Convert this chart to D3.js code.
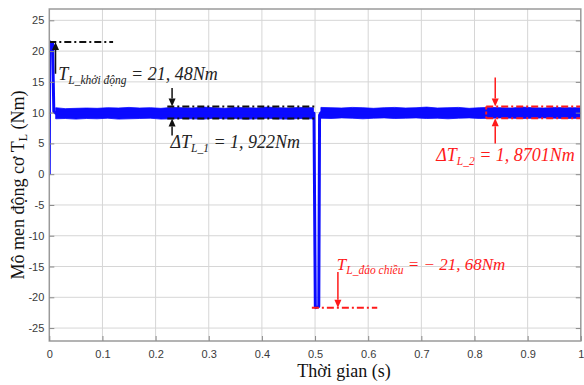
<!DOCTYPE html>
<html><head><meta charset="utf-8">
<script src="https://cdn.jsdelivr.net/npm/d3@7"></script>
<style>html,body{margin:0;padding:0;background:#fff;}svg{display:block;}</style>
</head><body>
<script>
// ---- data ----
const xTicks = [0,0.1,0.2,0.3,0.4,0.5,0.6,0.7,0.8,0.9,1];
const xTickLabels = ["0","0.1","0.2","0.3","0.4","0.5","0.6","0.7","0.8","0.9","1"];
const yTicks = [-25,-20,-15,-10,-5,0,5,10,15,20,25];
const yTickLabels = ["-25","-20","-15","-10","-5","0","5","10","15","20","25"];

// mean torque trajectory (transients)
const meanTime   = [0, 0.0008, 0.003, 0.0062, 0.0085, 0.012, 0.498, 0.5005, 0.5015, 0.507, 0.5085, 0.511, 1.0];
const meanTorque = [0, 21.5, 21.4, 21.2, 10.2, 9.9, 9.9, -21.6, -21.68, -21.5, 9.6, 10.0, 10.0];

// ripple envelope, segment 1 (start-up to reversal)
const rippleTimeA  = [0.012,0.03,0.05,0.07,0.09,0.11,0.13,0.15,0.17,0.19,0.21,0.23,0.25,0.27,0.29,0.31,0.33,0.35,0.37,0.39,0.41,0.43,0.45,0.47,0.497];
const rippleUpperA = [10.8,10.65,10.7,10.75,10.7,10.8,10.75,10.85,10.75,10.8,10.7,10.85,10.8,10.75,10.9,10.8,10.7,10.85,10.8,10.75,10.9,10.8,10.75,10.85,10.8];
const rippleLowerA = [9.0,9.05,8.95,9.05,9.0,9.1,8.95,9.0,9.05,9.1,8.95,9.0,9.05,9.0,8.95,9.1,9.0,9.05,8.95,9.0,9.1,9.0,8.95,9.05,9.0];
// ripple envelope, segment 2 (after reversal)
const rippleTimeB  = [0.511,0.53,0.55,0.57,0.59,0.61,0.63,0.65,0.67,0.69,0.71,0.73,0.75,0.77,0.79,0.81,0.83,0.85,0.87,0.89,0.91,0.93,0.95,0.97,1.0];
const rippleUpperB = [10.85,10.8,10.75,10.85,10.8,10.7,10.8,10.85,10.75,10.8,10.9,10.75,10.8,10.85,10.7,10.8,10.85,10.8,10.75,10.9,10.8,10.75,10.85,10.8,10.8];
const rippleLowerB = [9.1,9.05,9.15,9.1,9.0,9.1,9.15,9.05,9.1,9.15,9.05,9.1,9.0,9.1,9.15,9.05,9.1,9.15,9.1,9.05,9.1,9.15,9.1,9.05,9.1];

// annotation values
const startTorque = 21.48, reverseTorque = -21.68;
const band1 = [10.98, 9.06];   // ΔT_L_1 = 1,922
const band2 = [10.98, 9.11];   // ΔT_L_2 = 1,8701

// ---- layout ----
const W = 584, H = 385;
const L = 49.3, R = 580.8, T = 9, B = 341;
const x = d3.scaleLinear().domain([0,1]).range([L,R]);
const y = d3.scaleLinear().domain([-27.1,26.84]).range([B,T]);

const svg = d3.select("body").append("svg").attr("width",W).attr("height",H);

// grid
const g = svg.append("g");
g.selectAll(".gx").data(xTicks.slice(1,-1)).join("line")
  .attr("x1",d=>x(d)).attr("x2",d=>x(d)).attr("y1",T).attr("y2",B)
  .attr("stroke","#d6d6d6").attr("stroke-width",1);
g.selectAll(".gy").data(yTicks).join("line")
  .attr("x1",L).attr("x2",R).attr("y1",d=>y(d)).attr("y2",d=>y(d))
  .attr("stroke","#d6d6d6").attr("stroke-width",1);

// data: ripple bands
svg.append("clipPath").attr("id","pc").append("rect")
  .attr("x",L).attr("y",T).attr("width",R-L).attr("height",B-T);
const dg = svg.append("g").attr("clip-path","url(#pc)");
const area = d3.area().x(d=>x(d.t)).y0(d=>y(d.lo)).y1(d=>y(d.hi));
const segA = rippleTimeA.map((t,i)=>({t, hi:rippleUpperA[i], lo:rippleLowerA[i]}));
const segB = rippleTimeB.map((t,i)=>({t, hi:rippleUpperB[i], lo:rippleLowerB[i]}));
[segA, segB].forEach(s=>dg.append("path").attr("d",area(s)).attr("fill","#0a0aff").attr("stroke","#0a0aff").attr("stroke-width",0.8));
const line = d3.line().x(d=>x(d.t)).y(d=>y(d.v));
dg.append("path").datum(meanTime.map((t,i)=>({t, v:meanTorque[i]})))
  .attr("d",line).attr("fill","none").attr("stroke","#0a0aff").attr("stroke-width",3).attr("stroke-linejoin","round");

// annotations
const dash = "7,3,2,3";
const ag = svg.append("g").attr("clip-path","url(#pc)");
function hline(t1,t2,v,color){
  ag.append("line").attr("x1",x(t1)).attr("x2",x(t2)).attr("y1",y(v)).attr("y2",y(v))
    .attr("stroke",color).attr("stroke-width",2).attr("stroke-dasharray",dash);
}
function arrow(t,vFrom,vTo,color){
  const xx=x(t), y1=y(vFrom), y2=y(vTo);
  const dir = y2>y1?1:-1, hl=8, hw=3.5;
  ag.append("line").attr("x1",xx).attr("x2",xx).attr("y1",y1).attr("y2",y2-dir*hl)
    .attr("stroke",color).attr("stroke-width",1.5);
  ag.append("path").attr("d",`M${xx},${y2} L${xx-hw},${y2-dir*hl} L${xx+hw},${y2-dir*hl} Z`).attr("fill",color);
}
function label(t,v,color,main,sub,rest,fs){
  const tx = svg.append("text").attr("x",x(t)).attr("y",y(v))
    .attr("font-family","Liberation Serif, serif").attr("font-style","italic")
    .attr("font-size",fs).attr("fill",color);
  tx.append("tspan").text(main);
  tx.append("tspan").attr("font-size",11.5).attr("dy",4).text(sub);
  tx.append("tspan").attr("dy",-4).attr("font-size",fs).text(rest);
}
// start-up
hline(0,0.12,startTorque,"#111");
arrow(0.0117,16.3,startTorque,"#111");
label(0.017,15.3,"#222","T","L_khởi động"," = 21, 48Nm",18);
// ripple 1
hline(0.222,0.504,band1[0],"#111");
hline(0.222,0.504,band1[1],"#111");
arrow(0.231,14.0,band1[0],"#111");
arrow(0.231,6.3,band1[1],"#111");
label(0.228,4.3,"#222","ΔT","L_1"," = 1, 922Nm",18);
// ripple 2 (red)
hline(0.822,1.0,band2[0],"#ff1a1a");
hline(0.822,1.0,band2[1],"#ff1a1a");
ag.append("line").attr("x1",x(0.822)).attr("x2",x(0.822)).attr("y1",y(band2[0])).attr("y2",y(band2[1]))
  .attr("stroke","#ff1a1a").attr("stroke-width",2).attr("stroke-dasharray","3,2");
arrow(0.839,15.7,band2[0],"#ff1a1a");
arrow(0.839,5.0,band2[1],"#ff1a1a");
label(0.728,2.2,"#ff1a1a","ΔT","L_2"," = 1, 8701Nm",18);
// reversal (red)
hline(0.494,0.617,reverseTorque,"#ff1a1a");
arrow(0.543,-15.9,reverseTorque,"#ff1a1a");
label(0.541,-15.6,"#ff1a1a","T","L_đảo chiều"," = − 21, 68Nm",17);

// frame & ticks
svg.append("rect").attr("x",L).attr("y",T).attr("width",R-L).attr("height",B-T)
  .attr("fill","none").attr("stroke","#9a9a9a").attr("stroke-width",1.5);
const xa = svg.append("g").attr("transform",`translate(0,${B})`)
  .call(d3.axisBottom(x).tickValues(xTicks).tickFormat((d,i)=>xTickLabels[i]).tickSize(-5).tickPadding(9));
const ya = svg.append("g").attr("transform",`translate(${L},0)`)
  .call(d3.axisLeft(y).tickValues(yTicks).tickFormat((d,i)=>yTickLabels[i]).tickSize(-5).tickPadding(5));
const ya2 = svg.append("g").attr("transform",`translate(${R},0)`)
  .call(d3.axisRight(y).tickValues(yTicks).tickFormat("").tickSize(-5));
[xa,ya,ya2].forEach(a=>{
  a.select(".domain").remove();
  a.selectAll(".tick line").attr("stroke","#8a8a8a");
  a.selectAll("text").attr("font-family","Liberation Sans, Arial, sans-serif").attr("font-size",11).attr("fill","#3a3a3a");
});

// axis titles
svg.append("text").attr("x",(L+R)/2+29).attr("y",377).attr("text-anchor","middle")
  .attr("font-family","Liberation Serif, serif").attr("font-size",18).attr("fill","#111")
  .text("Thời gian (s)");
const yt = svg.append("text").attr("transform",`translate(24,${185}) rotate(-90)`).attr("text-anchor","middle")
  .attr("font-family","Liberation Serif, serif").attr("font-size",18).attr("fill","#111");
yt.append("tspan").text("Mô men động cơ T");
yt.append("tspan").attr("font-size",12).attr("dy",3).text("L");
yt.append("tspan").attr("dy",-3).attr("font-size",18).text(" (Nm)");
</script>
</body></html>
